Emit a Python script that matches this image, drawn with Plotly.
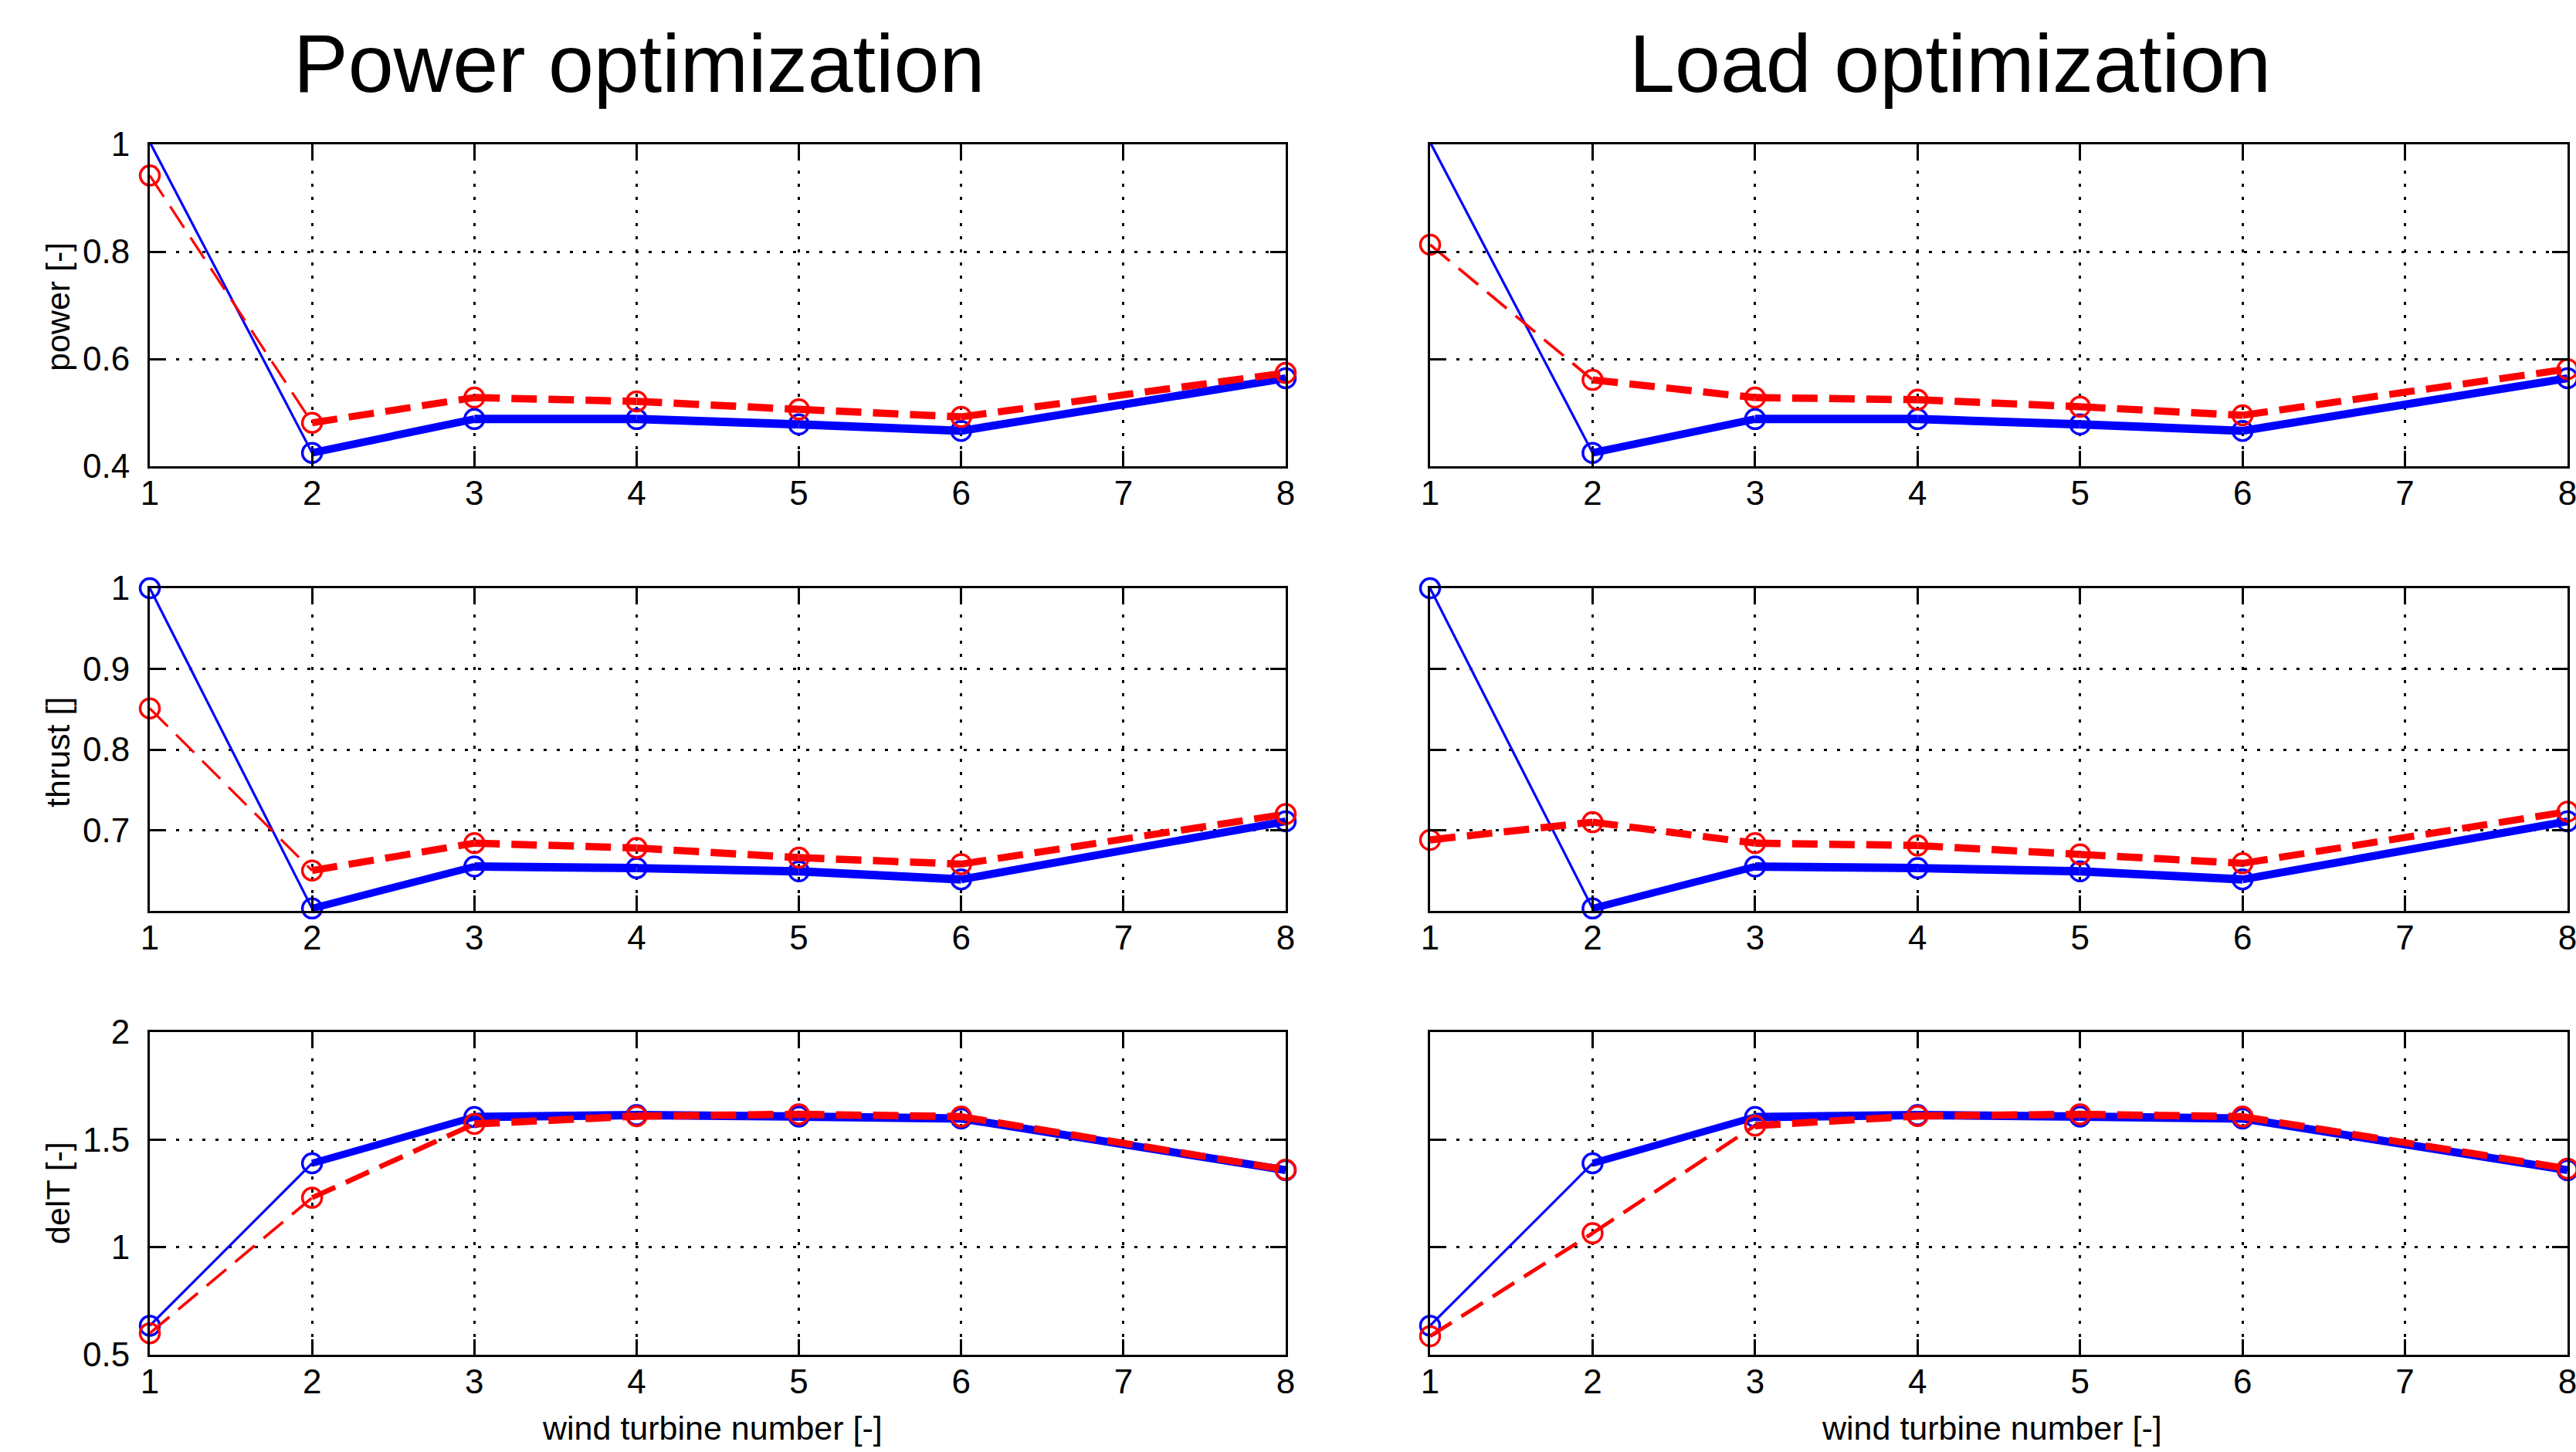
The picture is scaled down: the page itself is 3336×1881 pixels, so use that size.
import math
import plotly.graph_objects as go

# ---------------- data ----------------
turbine = [1, 2, 3, 4, 5, 6, 8]
x_tick_vals = [1, 2, 3, 4, 5, 6, 7, 8]
x_tick_text = ["1", "2", "3", "4", "5", "6", "7", "8"]

# power [-]
power_baseline = [1.004, 0.425, 0.488, 0.488, 0.478, 0.466, 0.564]
power_power_opt = [0.942, 0.481, 0.528, 0.521, 0.506, 0.492, 0.574]
power_load_opt = [0.813, 0.561, 0.528, 0.524, 0.511, 0.495, 0.581]

# thrust []
thrust_baseline = [1.0, 0.603, 0.655, 0.653, 0.649, 0.639, 0.711]
thrust_power_opt = [0.851, 0.650, 0.684, 0.678, 0.666, 0.658, 0.720]
thrust_load_opt = [0.688, 0.710, 0.684, 0.681, 0.670, 0.659, 0.723]

# delT [-]
delt_baseline = [0.635, 1.390, 1.605, 1.614, 1.607, 1.598, 1.358]
delt_power_opt = [0.600, 1.230, 1.573, 1.609, 1.618, 1.607, 1.360]
delt_load_opt = [0.586, 1.065, 1.565, 1.610, 1.618, 1.607, 1.365]

power_ticks = [0.4, 0.6, 0.8, 1.0]
power_tick_text = ["0.4", "0.6", "0.8", "1"]
thrust_ticks = [0.7, 0.8, 0.9, 1.0]
thrust_tick_text = ["0.7", "0.8", "0.9", "1"]
delt_ticks = [0.5, 1.0, 1.5, 2.0]
delt_tick_text = ["0.5", "1", "1.5", "2"]

column_titles = ["Power optimization", "Load optimization"]
row_labels = ["power [-]", "thrust []", "delT [-]"]
x_label = "wind turbine number [-]"

# ---------------- layout geometry ----------------
W, H = 3336, 1881
col_px = [(194, 1665), (1852, 3325)]
row_px = [(187, 604), (762, 1180), (1337, 1755)]
row_ranges = [(0.4, 1.0), (0.6, 1.0), (0.5, 2.0)]
row_ticks = [(power_ticks, power_tick_text), (thrust_ticks, thrust_tick_text),
             (delt_ticks, delt_tick_text)]
row_data = [
    (power_baseline, power_power_opt, power_load_opt),
    (thrust_baseline, thrust_power_opt, thrust_load_opt),
    (delt_baseline, delt_power_opt, delt_load_opt),
]

BLUE = "#0000FF"
RED = "#FF0000"
FONT = "Liberation Sans, Arial, sans-serif"

fig = go.Figure()


def seg_width(dx_px, dy_px, thin, thick):
    th = math.atan2(abs(dy_px), abs(dx_px))
    f = max(math.cos(2 * th), 0.0) ** 1.5
    return thin + (thick - thin) * f


layout_axes = {}
for r in range(3):
    for c in range(2):
        k = r * 2 + c + 1
        xname = "x" if k == 1 else f"x{k}"
        yname = "y" if k == 1 else f"y{k}"
        x0, x1 = col_px[c]
        y0, y1 = row_px[r]
        ymin, ymax = row_ranges[r]
        px_x = (x1 - x0) / (x_tick_vals[-1] - x_tick_vals[0])
        px_y = (y1 - y0) / (ymax - ymin)

        base = row_data[r][0]
        opt = row_data[r][1 + c]

        for ys, color, thick, dash in [(base, BLUE, 11, "solid"), (opt, RED, 9.5, "33px,15px")]:
            for i in range(len(turbine) - 1):
                dx = (turbine[i + 1] - turbine[i]) * px_x
                dy = (ys[i + 1] - ys[i]) * px_y
                w = seg_width(dx, dy, 3.2, thick)
                fig.add_trace(go.Scatter(
                    x=turbine[i:i + 2], y=ys[i:i + 2], mode="lines",
                    line=dict(color=color, width=w, dash=dash),
                    xaxis=xname, yaxis=yname, cliponaxis=False,
                    hoverinfo="skip", showlegend=False))
            fig.add_trace(go.Scatter(
                x=turbine, y=ys, mode="markers",
                marker=dict(symbol="circle-open", size=25, color=color,
                            line=dict(width=3.5, color=color)),
                xaxis=xname, yaxis=yname, cliponaxis=False,
                hoverinfo="skip", showlegend=False))

        common = dict(
            showline=True, linewidth=3, linecolor="black", mirror="ticks",
            ticks="inside", ticklen=20, tickwidth=3, tickcolor="black",
            showgrid=True, gridcolor="black", gridwidth=3, griddash="4px,13px",
            zeroline=False, automargin=False,
            tickfont=dict(family=FONT, size=44, color="black"),
        )
        xkey = "xaxis" if k == 1 else f"xaxis{k}"
        ykey = "yaxis" if k == 1 else f"yaxis{k}"
        layout_axes[xkey] = dict(
            common, domain=[x0 / W, x1 / W], anchor=yname,
            range=[x_tick_vals[0], x_tick_vals[-1]],
            tickmode="array", tickvals=x_tick_vals, ticktext=x_tick_text,
            ticklabelstandoff=-6, ticklabeloverflow="allow",
        )
        layout_axes[ykey] = dict(
            common, domain=[1 - y1 / H, 1 - y0 / H], anchor=xname,
            range=[ymin, ymax],
            tickmode="array", tickvals=row_ticks[r][0], ticktext=row_ticks[r][1],
            showticklabels=(c == 0), ticklabelstandoff=14,
        )

annotations = []
title_centers = [828, 2525]
for c in range(2):
    annotations.append(dict(
        text=column_titles[c], x=title_centers[c] / W, y=1 - 82 / H,
        xref="paper", yref="paper", xanchor="center", yanchor="middle",
        showarrow=False, font=dict(family=FONT, size=106, color="black")))

row_label_centers = [398, 975, 1546]
for r in range(3):
    annotations.append(dict(
        text=row_labels[r], x=75 / W, y=1 - row_label_centers[r] / H,
        xref="paper", yref="paper", xanchor="center", yanchor="middle",
        textangle=-90, showarrow=False,
        font=dict(family=FONT, size=43, color="black")))

for cx in [922, 2579]:
    annotations.append(dict(
        text=x_label, x=cx / W, y=1 - 1850 / H,
        xref="paper", yref="paper", xanchor="center", yanchor="middle",
        showarrow=False, font=dict(family=FONT, size=43, color="black")))

fig.update_layout(
    width=W, height=H,
    margin=dict(l=0, r=0, t=0, b=0, pad=0, autoexpand=False),
    paper_bgcolor="white", plot_bgcolor="white",
    showlegend=False,
    annotations=annotations,
    **layout_axes,
)

fig.write_html("out.html")
